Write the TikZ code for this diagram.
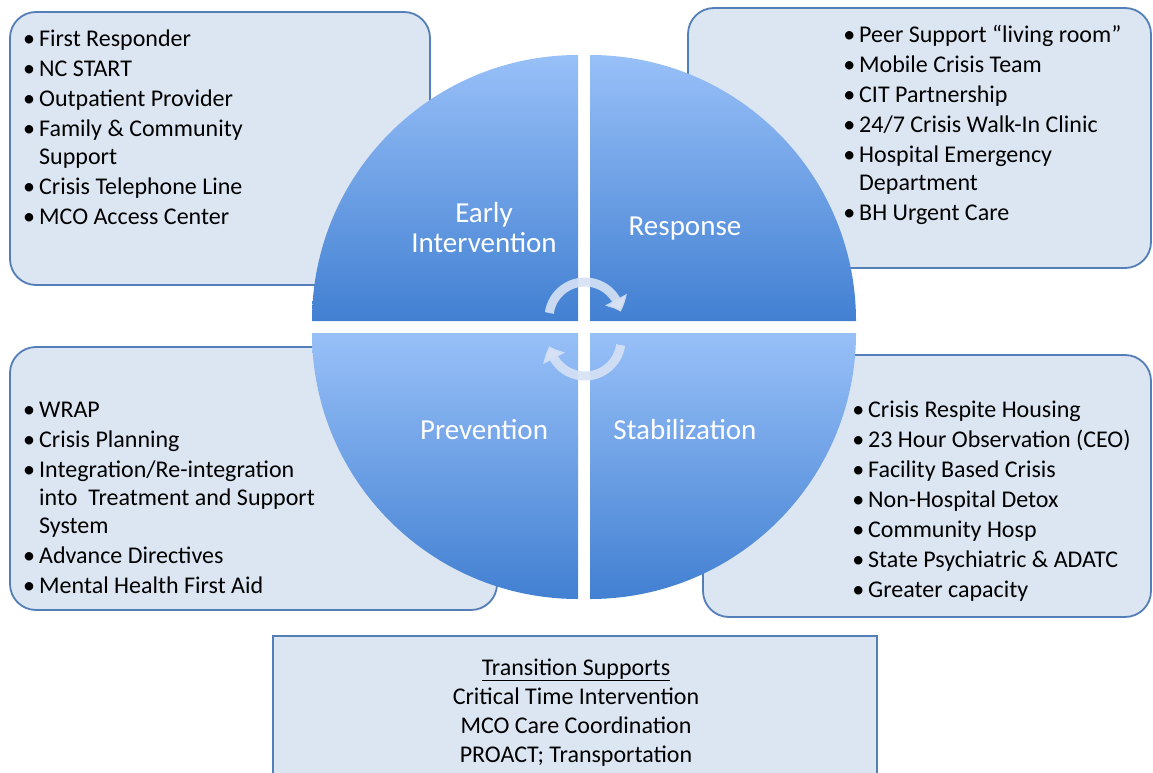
\documentclass[tikz,border=0pt]{standalone}
\usepackage{fontspec}
\setmainfont{Carlito}
\usetikzlibrary{arrows.meta,bending}
\definecolor{boxfill}{RGB}{220,230,242}
\definecolor{boxline}{RGB}{84,126,184}
\definecolor{qlight}{RGB}{152,192,248}
\definecolor{qdark}{RGB}{66,128,210}
\definecolor{arrowc}{RGB}{214,226,244}
\newcommand\bl{\llap{\textbullet\hspace{4pt}}}
\tikzset{
  infobox/.style={draw=boxline, line width=1.8pt, fill=boxfill, rounded corners=26pt},
  plainbox/.style={draw=boxline, line width=1.8pt, fill=boxfill},
  quad/.style={top color=qlight, bottom color=qdark, draw=none},
  bullets/.style={anchor=base west, inner sep=0pt, font=\fontsize{24}{28}\selectfont, text=black},
  qlabel/.style={text=white, font=\fontsize{29}{30}\selectfont, align=center, inner sep=0pt},
  cyc/.style={line width=9pt, draw=arrowc, draw opacity=0.9, -{Triangle[width=24pt,length=13pt,bend]}}
}
\begin{document}
\begin{tikzpicture}[x=1pt,y=-1pt]
\useasboundingbox (0,0) rectangle (1153,773);
\fill[white] (0,0) rectangle (1153,773);
% boxes
\draw[infobox] (10,12) rectangle (430,285);
\draw[infobox] (688,8) rectangle (1151,268);
\draw[infobox] (10,347) rectangle (497,610);
\draw[infobox] (703,355) rectangle (1151,617);
\draw[plainbox] (273,636) rectangle (877,800);
% quadrants
\shade[quad] (578,321) -- (312,321) arc[start angle=180,end angle=90,radius=266pt] -- cycle;
\shade[quad] (590,321) -- (590,55) arc[start angle=90,end angle=0,radius=266pt] -- cycle;
\shade[quad] (578,333) -- (578,599) arc[start angle=270,end angle=180,radius=266pt] -- cycle;
\shade[quad] (590,333) -- (856,333) arc[start angle=0,end angle=-90,radius=266pt] -- cycle;
% cycle arrows
\coordinate (ca) at (585,318);
\coordinate (cb) at (585,340);
\draw[cyc] ([shift={(172:36pt)}]ca) arc[start angle=172,end angle=10,radius=36pt];
\draw[cyc] ([shift={(-8:36pt)}]cb) arc[start angle=-8,end angle=-170,radius=36pt];
% quadrant labels
\node[qlabel] (early) at (484,228) {Early\\Intervention};
\node[qlabel] (resp) at (685,229) {Response};
\node[qlabel] (prev) at (484,430) {Prevention};
\node[qlabel] (stab) at (685,430) {Stabilization};
% box texts
\node[bullets] (tltext) at (39,47) {\begin{tabular}[t]{@{}l@{}}
\bl First Responder\\[2pt]
\bl NC START\\[2pt]
\bl Outpatient Provider\\[2pt]
\bl Family \& Community\\
Support\\[2pt]
\bl Crisis Telephone Line\\[2pt]
\bl MCO Access Center
\end{tabular}};
\node[bullets] (trtext) at (859,43) {\begin{tabular}[t]{@{}l@{}}
\bl Peer Support “living room”\\[2pt]
\bl Mobile Crisis Team\\[2pt]
\bl CIT Partnership\\[2pt]
\bl 24/7 Crisis Walk-In Clinic\\[2pt]
\bl Hospital Emergency\\
Department\\[2pt]
\bl BH Urgent Care
\end{tabular}};
\node[bullets] (bltext) at (39,417) {\begin{tabular}[t]{@{}l@{}}
\bl WRAP\\[2pt]
\bl Crisis Planning\\[2pt]
\bl Integration/Re-integration\\
into~ Treatment and Support\\
System\\[2pt]
\bl Advance Directives\\[2pt]
\bl Mental Health First Aid
\end{tabular}};
\node[bullets] (brtext) at (868,417) {\begin{tabular}[t]{@{}l@{}}
\bl Crisis Respite Housing\\[2pt]
\bl 23 Hour Observation (CEO)\\[2pt]
\bl Facility Based Crisis\\[2pt]
\bl Non-Hospital Detox\\[2pt]
\bl Community Hosp\\[2pt]
\bl State Psychiatric \& ADATC\\[2pt]
\bl Greater capacity
\end{tabular}};
\node[anchor=base, inner sep=0pt, font=\fontsize{24}{29.3}\selectfont] (trans) at (576,675)
  {\begin{tabular}[t]{@{}c@{}}\underline{Transition Supports}\\Critical Time Intervention\\MCO Care Coordination\\PROACT; Transportation\end{tabular}};
\end{tikzpicture}
\end{document}
